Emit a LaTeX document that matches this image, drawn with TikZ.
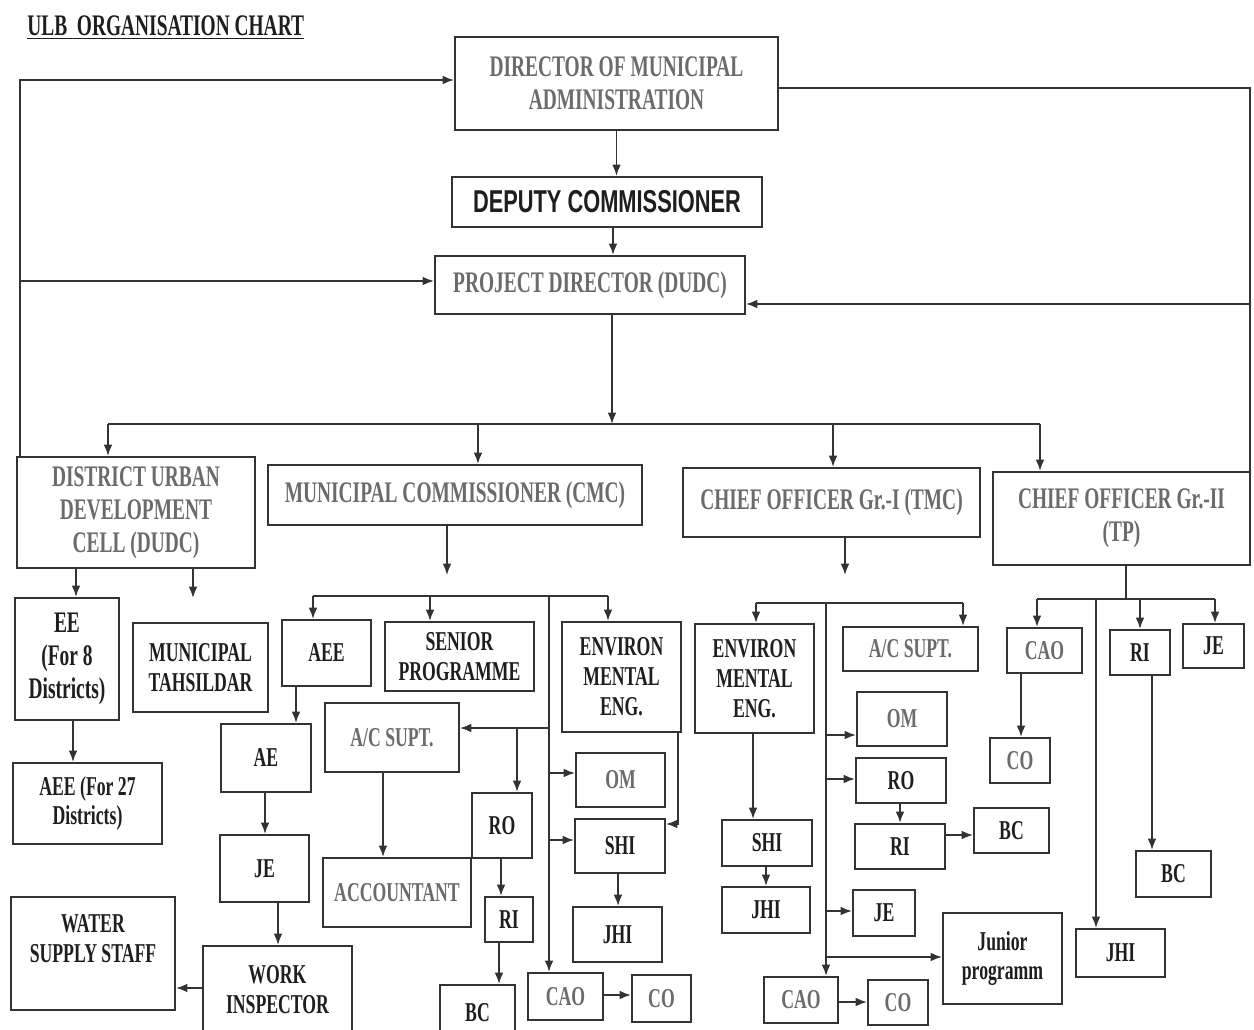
\documentclass[tikz,border=0pt]{standalone}
\usepackage{fontspec}
\setmainfont{Liberation Serif}[FakeStretch=0.65]
\newfontfamily\arialc{Liberation Sans}[FakeStretch=0.69]
\usetikzlibrary{arrows.meta}
\definecolor{tg}{HTML}{6B6B6B}
\definecolor{tk}{HTML}{1E1E1E}
\definecolor{lnc}{HTML}{333333}
\newcommand{\bx}[7]{%
  \pgfmathsetmacro\bxcx{(#2+#4)/2}%
  \pgfmathsetmacro\bxcy{(#3+#5)/2}%
  \pgfmathsetmacro\bxw{(#4-#2)*0.02}%
  \pgfmathsetmacro\bxh{(#5-#3)*0.02}%
  \node[box,#6,minimum width=\bxw cm,minimum height=\bxh cm] (#1) at (\bxcx,\bxcy) {#7};}
\begin{document}
\begin{tikzpicture}[x=0.02cm,y=-0.02cm,
  box/.style={draw=lnc, line width=1.2pt, align=center, inner sep=1pt, text=tk, font=\bfseries\fontsize{17}{18.7}\selectfont},
  sm/.style={font=\bfseries\fontsize{15.5}{17}\selectfont},
  gr/.style={text=tg},
  conn/.style={draw=lnc, line width=0.9pt},
  arr/.style={conn, -{Latex[length=6.5pt,width=5pt]}}]
\useasboundingbox (0,0) rectangle (1254,1030);
\clip (0,0) rectangle (1254,1030);
\fill[white] (0,0) rectangle (1254,1030);

\node[anchor=west, text=tk, font=\bfseries\fontsize{17}{19}\selectfont, inner sep=0pt] (title) at (27,28) {\underline{ULB\ \ ORGANISATION CHART}};

% top level
\bx{dma}{455}{37}{778}{130}{gr}{DIRECTOR OF MUNICIPAL\\ADMINISTRATION}
\bx{dc}{452}{177}{762}{227}{font=\arialc\bfseries\fontsize{18}{20}\selectfont}{DEPUTY COMMISSIONER}
\bx{pd}{435}{256}{745}{314}{gr}{PROJECT DIRECTOR (DUDC)}
\bx{dudc}{17}{457}{255}{568}{gr}{DISTRICT URBAN\\DEVELOPMENT\\CELL (DUDC)}
\bx{cmc}{268}{465}{642}{525}{gr}{MUNICIPAL COMMISSIONER (CMC)}
\bx{coi}{683}{468}{980}{537}{gr}{CHIEF OFFICER Gr.-I (TMC)}
\bx{coii}{993}{472}{1250}{565}{gr}{CHIEF OFFICER Gr.-II\\(TP)}

% DUDC branch
\bx{ee}{15}{598}{119}{720}{}{EE\\(For 8\\Districts)}
\bx{mt}{133}{623}{268}{712}{sm}{MUNICIPAL\\TAHSILDAR}
\bx{aee27}{13}{763}{162}{844}{sm}{AEE (For 27\\Districts)}
\bx{wss}{11}{897}{175}{1010}{sm}{WATER\\SUPPLY STAFF\\\mbox{}}

% CMC branch
\bx{aee}{282}{620}{371}{686}{sm}{AEE}
\bx{sp}{385}{622}{534}{691}{sm}{SENIOR\\PROGRAMME}
\bx{acs1}{325}{703}{459}{772}{sm,gr}{A/C SUPT.}
\bx{ae}{221}{724}{311}{792}{sm}{AE}
\bx{je1}{220}{835}{309}{902}{sm}{JE}
\bx{work}{203}{946}{352}{1034}{sm}{WORK\\INSPECTOR}
\bx{acc}{323}{858}{471}{927}{sm,gr}{ACCOUNTANT}
\bx{env1}{562}{622}{681}{732}{sm}{ENVIRON\\MENTAL\\ENG.}
\bx{ro1}{472}{793}{532}{858}{sm}{RO}
\bx{ri1}{485}{897}{533}{942}{sm}{RI}
\bx{bc1}{440}{985}{515}{1040}{sm}{BC}
\bx{om1}{576}{753}{665}{807}{sm,gr}{OM}
\bx{shi1}{575}{819}{665}{873}{sm}{SHI}
\bx{jhi1}{573}{907}{662}{962}{sm}{JHI}
\bx{cao1}{528}{973}{603}{1020}{sm,gr}{CAO}
\bx{co1}{632}{975}{691}{1022}{sm,gr}{CO}

% CO Gr.-I branch
\bx{env2}{695}{624}{814}{733}{sm}{ENVIRON\\MENTAL\\ENG.}
\bx{acs2}{843}{627}{978}{671}{sm,gr}{A/C SUPT.}
\bx{om2}{857}{692}{947}{746}{sm,gr}{OM}
\bx{ro2}{856}{758}{946}{803}{sm}{RO}
\bx{ri2}{855}{824}{945}{869}{sm}{RI}
\bx{bc2}{974}{808}{1049}{853}{sm}{BC}
\bx{shi2}{722}{820}{812}{866}{sm}{SHI}
\bx{jhi2}{722}{887}{810}{933}{sm}{JHI}
\bx{je2}{853}{890}{915}{936}{sm}{JE}
\bx{jp}{943}{913}{1062}{1004}{sm}{Junior\\programm}
\bx{cao2}{764}{977}{838}{1023}{sm,gr}{CAO}
\bx{co2}{868}{980}{928}{1025}{sm,gr}{CO}

% CO Gr.-II branch
\bx{cao3}{1007}{628}{1082}{673}{sm,gr}{CAO}
\bx{co3}{990}{738}{1050}{783}{sm,gr}{CO}
\bx{ri3}{1110}{630}{1170}{675}{sm}{RI}
\bx{bc3}{1136}{851}{1211}{897}{sm}{BC}
\bx{je3}{1183}{624}{1244}{668}{sm}{JE}
\bx{jhi3}{1076}{929}{1165}{977}{sm}{JHI}

% top connectors
\draw[arr] (dma.south) -- (dma.south |- dc.north);
\draw[arr] (613,0 |- dc.south) -- (613,0 |- pd.north);
\coordinate (pdj) at (612,424);
\draw[arr] (pd.south -| pdj) -- (pdj);
\coordinate (barL) at (108,424);
\coordinate (barR) at (1040,424);
\draw[conn] (barL) -- (barR);
\draw[arr] (barL) -- (barL |- dudc.north);
\draw[arr] (478,424) -- (cmc.north -| 478,0);
\draw[arr] (833,424) -- (coi.north -| 833,0);
\draw[arr] (barR) -- (barR |- coii.north);

% feedback loops
\coordinate (lt) at (20,80);
\coordinate (lm) at (20,281);
\draw[arr] (dudc.north -| lt) -- (lt) -- (dma.west |- lt);
\draw[arr] (lm) -- (pd.west |- lm);
\coordinate (rt) at (1250,88);
\coordinate (rm) at (1250,304);
\draw[conn] (coii.north -| rt) -- (rt) -- (dma.east |- rt);
\draw[arr] (rm) -- (pd.east |- rm);

% DUDC children
\draw[arr] (dudc.south -| 76,0) -- (ee.north -| 76,0);
\coordinate (mtin) at (193,598);
\draw[arr] (dudc.south -| mtin) -- (mtin);
\draw[arr] (ee.south -| 73,0) -- (aee27.north -| 73,0);

% CMC children
\coordinate (cmcd) at (447,575);
\draw[arr] (cmc.south -| cmcd) -- (cmcd);
\draw[conn] (313,596) -- (608,596);
\draw[arr] (313,596) -- (aee.north -| 313,0);
\draw[arr] (430,596) -- (sp.north -| 430,0);
\draw[arr] (608,596) -- (env1.north -| 608,0);
\draw[arr] (549,596) -- (cao1.north -| 549,0);
\draw[arr] (549,728) -- (acs1.east |- 0,728);
\draw[arr] (517,728) -- (ro1.north -| 517,0);
\draw[arr] (549,773) -- (om1.west |- 0,773);
\draw[arr] (549,840) -- (shi1.west |- 0,840);
\draw[arr] (env1.south -| 678,0) -- (678,824) -- (shi1.east |- 0,824);
\draw[arr] (shi1.south -| 618,0) -- (jhi1.north -| 618,0);
\draw[arr] (ro1.south -| 501,0) -- (ri1.north -| 501,0);
\draw[arr] (ri1.south -| 499,0) -- (bc1.north -| 499,0);
\draw[arr] (aee.south -| 296,0) -- (ae.north -| 296,0);
\draw[arr] (ae.south -| 265,0) -- (je1.north -| 265,0);
\draw[arr] (je1.south -| 278,0) -- (work.north -| 278,0);
\draw[arr] (work.west |- 0,988) -- (wss.east |- 0,988);
\draw[arr] (acs1.south -| 383,0) -- (acc.north -| 383,0);
\draw[arr] (cao1.east |- 0,995) -- (co1.west |- 0,995);

% CO Gr.-I children
\coordinate (coid) at (845,575);
\draw[arr] (coi.south -| coid) -- (coid);
\draw[conn] (756,603) -- (963,603);
\draw[arr] (756,603) -- (env2.north -| 756,0);
\draw[arr] (963,603) -- (acs2.north -| 963,0);
\draw[arr] (826,603) -- (cao2.north -| 826,0);
\draw[arr] (826,735) -- (om2.west |- 0,735);
\draw[arr] (826,779) -- (ro2.west |- 0,779);
\draw[arr] (826,911) -- (je2.west |- 0,911);
\draw[arr] (826,957) -- (jp.west |- 0,957);
\draw[arr] (env2.south -| 753,0) -- (shi2.north -| 753,0);
\draw[arr] (shi2.south -| 766,0) -- (jhi2.north -| 766,0);
\draw[arr] (ro2.south -| 900,0) -- (ri2.north -| 900,0);
\draw[arr] (ri2.east |- 0,835) -- (bc2.west |- 0,835);
\draw[arr] (cao2.east |- 0,1002) -- (co2.west |- 0,1002);

% CO Gr.-II children
\draw[conn] (coii.south -| 1126,0) -- (1126,599);
\draw[conn] (1037,599) -- (1215,599);
\draw[arr] (1037,599) -- (cao3.north -| 1037,0);
\draw[arr] (1140,599) -- (ri3.north -| 1140,0);
\draw[arr] (1215,599) -- (je3.north -| 1215,0);
\draw[arr] (1096,599) -- (jhi3.north -| 1096,0);
\draw[arr] (cao3.south -| 1021,0) -- (co3.north -| 1021,0);
\draw[arr] (ri3.south -| 1152,0) -- (bc3.north -| 1152,0);
\end{tikzpicture}
\end{document}
